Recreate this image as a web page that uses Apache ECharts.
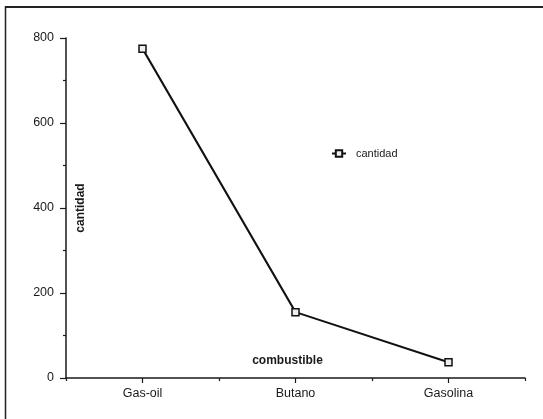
<!DOCTYPE html>
<html>
<head>
<meta charset="utf-8">
<script src="https://cdn.jsdelivr.net/npm/echarts@6/dist/echarts.min.js"></script>
<style>
html,body{margin:0;padding:0;background:#fff;}
#c{width:543px;height:419px;}
</style>
</head>
<body>
<div id="c"></div>
<script>
const categories = ['Gas-oil', 'Butano', 'Gasolina'];
const cantidad = [775, 155, 37];
const yMin = 0, yMax = 800, yStep = 200;

const FONT = '"Liberation Sans", Arial, Helvetica, sans-serif';
const INK = '#1a1a1a';

const chart = echarts.init(document.getElementById('c'));
chart.setOption({
  animation: false,
  backgroundColor: '#ffffff',
  textStyle: { fontFamily: FONT, color: INK },
  graphic: [
    { type: 'line', shape: { x1: 5, y1: 7, x2: 543, y2: 7 }, style: { stroke: '#222', lineWidth: 2 } },
    { type: 'line', shape: { x1: 5.5, y1: 6, x2: 5.5, y2: 419 }, style: { stroke: '#222', lineWidth: 1.5 } }
  ],
  legend: {
    left: 326, top: 143,
    itemWidth: 14, itemHeight: 8,
    textStyle: { fontFamily: FONT, fontSize: 11, color: INK, padding: [0, 0, 0, 5] },
    data: ['cantidad']
  },
  grid: { left: 66, top: 38, right: 18, bottom: 41, containLabel: false },
  xAxis: [
    {
      type: 'category', data: categories, boundaryGap: true,
      axisLine: { lineStyle: { color: INK, width: 1.5 } },
      axisTick: { show: true, length: 3, lineStyle: { color: INK, width: 1.2 } },
      axisLabel: { margin: 9, fontSize: 12.5, color: INK, fontFamily: FONT },
      name: 'combustible', nameLocation: 'middle', nameGap: -23, nameMoveOverlap: false,
      nameTextStyle: { fontWeight: 'bold', fontSize: 12, color: INK, fontFamily: FONT, padding: [0, 16, 0, 0] }
    },
    {
      type: 'category', data: categories, position: 'bottom', boundaryGap: true,
      axisLine: { show: false },
      axisTick: { show: true, alignWithLabel: true, length: 5, lineStyle: { color: INK, width: 1.2 } },
      axisLabel: { show: false }
    }
  ],
  yAxis: {
    type: 'value', min: yMin, max: yMax, interval: yStep,
    axisLine: { show: true, lineStyle: { color: INK, width: 1.5 } },
    axisTick: { show: true, length: 6, lineStyle: { color: INK, width: 1.2 } },
    minorTick: { show: true, splitNumber: 2, length: 3, lineStyle: { color: INK, width: 1.2 } },
    splitLine: { show: false },
    axisLabel: { margin: 12, fontSize: 12.5, color: INK, fontFamily: FONT },
    name: 'cantidad', nameLocation: 'middle', nameGap: -21, nameRotate: 90, nameMoveOverlap: false,
    nameTextStyle: { fontWeight: 'bold', fontSize: 12, color: INK, fontFamily: FONT }
  },
  series: [{
    name: 'cantidad', type: 'line', xAxisIndex: 0, data: cantidad,
    symbol: 'rect', symbolSize: 7,
    lineStyle: { color: '#111', width: 2 },
    itemStyle: { color: '#eee', borderColor: '#111', borderWidth: 1.5 }
  }]
});
</script>
</body>
</html>
